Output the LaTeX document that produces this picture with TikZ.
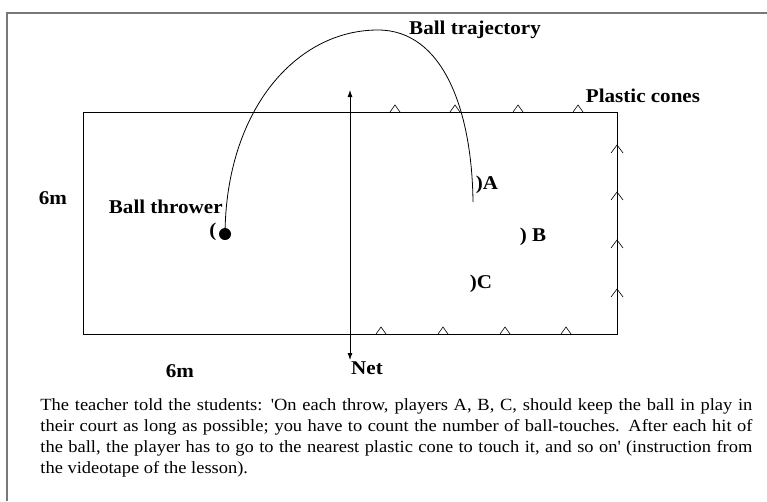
\documentclass[tikz,border=0pt]{standalone}
\usepackage{fontspec}
\setmainfont[FakeStretch=1.08]{Liberation Serif}
\usetikzlibrary{positioning, arrows.meta, calc}
\definecolor{cF}{RGB}{120,120,120}
\tikzset{
  lbl/.style={font=\fontsize{19.5}{21}\selectfont\bfseries, inner sep=0pt},
  topcone/.style={line width=0.6pt},
  sidecone/.style={line width=0.6pt}
}

\begin{document}
\begin{tikzpicture}[x=1pt, y=-1pt, line width=0.8pt]
    \useasboundingbox (0,0) rectangle (767,501);

    % Page frame
    \draw[cF, line width=1.6pt] (7,501) -- (7,13) -- (767,13);

    % Court
    \draw (83,112) rectangle (617,334);

    % Net
    \coordinate (nettop) at (350,90);
    \coordinate (netbot) at (350,360);
    \draw[{Latex[length=7pt,width=5pt]}-{Latex[length=7pt,width=5pt]}] (netbot) -- (nettop);
    \node[lbl] (net) at (367,368) {Net};

    % Plastic cones on the long sides
    \foreach \x in {395,455,518,578}
        \draw[topcone] (\x-5,112) -- (\x,105) -- (\x+5,112);
    \foreach \x in {381,443,505,566}
        \draw[topcone] (\x-5,334) -- (\x,327) -- (\x+5,334);
    % Plastic cones on the back line
    \foreach \y in {148,195,243,292}
        \draw[sidecone] (611,\y+5) -- (617,\y-3) -- (623,\y+5);
    \node[lbl] (cones) at (643,96) {Plastic cones};

    % Ball thrower
    \node[circle, fill, inner sep=0pt, minimum size=12pt] (ball) at (225,234) {};
    \node[lbl] (bracket) at (213,232) {(};
    \node[lbl, anchor=east] (thrower) at (223,207) {Ball thrower};

    % Players
    \node[lbl] (pA) at (487,185) {)A};
    \node[lbl] (pB) at (533,237) {) B};
    \node[lbl] (pC) at (481,284) {)C};

    % Ball trajectory
    \coordinate (landing) at (473,202);
    \draw (ball.center) .. controls (226,110) and (296,30) .. (378,30)
          .. controls (443,30) and (472,110) .. (landing);
    \node[lbl] (traj) at (475,30) {Ball trajectory};

    % Dimensions
    \node[lbl] (width) at (53,198) {6m};
    \node[lbl] (length) at (180,371) {6m};

    % Instruction
    \node[anchor=north west, text width=712pt, align=justify, inner sep=0pt,
          font=\fontsize{17.1}{21}\selectfont] (note) at (40,398)
    {\hyphenpenalty=10000\relax The teacher told the students: \textquotesingle On each throw, players A, B, C, should keep the ball in play in their court as long as possible; you have to count the number of ball-touches. After each hit of the ball, the player has to go to the nearest plastic cone to touch it, and so on\textquotesingle\ (instruction from the videotape of the lesson).};
\end{tikzpicture}
\end{document}
